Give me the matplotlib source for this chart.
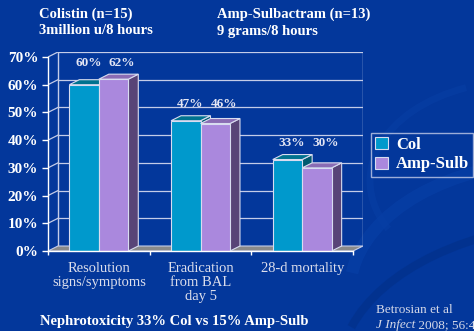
import numpy as np
import matplotlib.pyplot as plt
from matplotlib.patches import Polygon, Patch, Arc

# === DATA ===
categories = ["Resolution\nsigns/symptoms", "Eradication\nfrom BAL\nday 5", "28-d mortality"]
col_values = [60, 47, 33]
amp_values = [62, 46, 30]
series_names = ["Col", "Amp-Sulb"]
y_ticks = [0, 10, 20, 30, 40, 50, 60, 70]

# === STYLE ===
BG = "#03379b"
LINE = "#c4cce8"
TEXT = "white"
SERIF = ["Liberation Serif", "DejaVu Serif"]
COL_FACES = ("#0099cc", "#00728f", "#005a70")   # front, top, side
AMP_FACES = ("#aa88dd", "#8a6cb4", "#584477")
FLOOR = "#8a8a8a"
BAR_W = 0.29
DX, DY = 0.098, 1.8   # depth offset in data units

plt.rcParams["font.family"] = SERIF

fig = plt.figure(figsize=(4.74, 3.31), dpi=100, facecolor=BG)

# soft swooshes in the background
bg = fig.add_axes([0, 0, 1, 1], zorder=-5)
bg.set_xlim(0, 474)
bg.set_ylim(0, 331)
bg.axis("off")
for (cx, cy, w, h, t1, t2, lw, c) in [
    (560, 40, 420, 260, 95, 175, 9, "#0840a8"),
    (600, -40, 520, 300, 100, 170, 6, "#022f88"),
    (520, 150, 300, 200, 120, 200, 5, "#083ea4"),
]:
    bg.add_patch(Arc((cx, cy), w, h, theta1=t1, theta2=t2, lw=lw, color=c, alpha=0.6))

ax = fig.add_axes([48 / 474, 80 / 331, 315 / 474, 199 / 331])
ax.set_facecolor("none")
ax.set_xlim(0, 3 + DX)
ax.set_ylim(0, 70 + DY)

# back wall grid and left wall diagonals
for v in y_ticks[1:]:
    ax.plot([DX, 3 + DX], [v + DY, v + DY], color=LINE, lw=0.9, zorder=1)
    ax.plot([0, DX], [v, v + DY], color=LINE, lw=0.9, zorder=1)
ax.plot([DX, DX], [DY, 70 + DY], color=LINE, lw=1, zorder=1)
ax.plot([3 + DX, 3 + DX], [DY, 70 + DY], color=LINE, lw=1, zorder=1)

# floor
ax.add_patch(Polygon([(0, 0), (3, 0), (3 + DX, DY), (DX, DY)], closed=True,
                     facecolor=FLOOR, edgecolor=LINE, lw=0.8, zorder=2))


def bar3d(x0, v, faces):
    front, top, side = faces
    x1 = x0 + BAR_W
    ax.add_patch(Polygon([(x1, 0), (x1 + DX, DY), (x1 + DX, v + DY), (x1, v)],
                         facecolor=side, edgecolor="#d8dcf0", lw=0.8, zorder=3))
    ax.add_patch(Polygon([(x0, v), (x1, v), (x1 + DX, v + DY), (x0 + DX, v + DY)],
                         facecolor=top, edgecolor="#d8dcf0", lw=0.8, zorder=3))
    ax.add_patch(Polygon([(x0, 0), (x1, 0), (x1, v), (x0, v)],
                         facecolor=front, edgecolor="#d8dcf0", lw=0.8, zorder=3))


x = np.arange(len(categories)) + 0.5
for i in range(len(categories)):
    bar3d(x[i] - BAR_W, col_values[i], COL_FACES)
    bar3d(x[i], amp_values[i], AMP_FACES)
    label_y = max(col_values[i], amp_values[i]) + 6.0
    ax.text(x[i] - BAR_W / 2 + 0.045, label_y, f"{col_values[i]}%", ha="center", va="center",
            color="#e4e6f4", fontsize=9.5, fontweight="bold", zorder=4)
    ax.text(x[i] + BAR_W / 2 + 0.085, label_y, f"{amp_values[i]}%", ha="center", va="center",
            color="#e4e6f4", fontsize=9.5, fontweight="bold", zorder=4)

# front axes
for s in ["top", "right"]:
    ax.spines[s].set_visible(False)
ax.spines["left"].set_bounds(0, 70)
ax.spines["bottom"].set_bounds(0, 3)
for s in ["left", "bottom"]:
    ax.spines[s].set_color("white")
    ax.spines[s].set_linewidth(1)
    ax.spines[s].set_zorder(5)

ax.set_yticks(y_ticks, [f"{v}%" for v in y_ticks])
ax.tick_params(axis="y", colors="white", length=4, width=1, pad=3,
               labelsize=11, labelcolor=TEXT)
for lab in ax.get_yticklabels():
    lab.set_fontweight("bold")

ax.set_xticks([0, 1, 2, 3], ["", "", "", ""])
ax.tick_params(axis="x", which="major", colors="white", length=3, width=1)
ax.set_xticks(x, categories, minor=True)
ax.tick_params(axis="x", which="minor", length=0, pad=8, labelsize=10.5, labelcolor="#dcdeec")
for lab in ax.get_xticklabels(minor=True):
    lab.set_linespacing(1.1)

# legend
handles = [Patch(facecolor=COL_FACES[0], edgecolor="#d8dcf0", lw=0.8),
           Patch(facecolor=AMP_FACES[0], edgecolor="#d8dcf0", lw=0.8)]
leg = fig.legend(handles, series_names, loc="upper left", bbox_to_anchor=(371 / 474, 1 - 133 / 331),
                 frameon=True, fancybox=False, fontsize=12, handlelength=0.75, handleheight=0.75,
                 handletextpad=0.5, borderpad=0.25, labelspacing=0.2, borderaxespad=0)
leg.get_frame().set_facecolor("none")
leg.get_frame().set_edgecolor(LINE)
leg.get_frame().set_linewidth(1)
for t in leg.get_texts():
    t.set_color(TEXT)
    t.set_fontweight("bold")

# slide text
hdr = dict(color=TEXT, fontsize=10.5, fontweight="bold", va="center", ha="left")
fig.text(39 / 474, 1 - 14 / 331, "Colistin (n=15)", **hdr)
fig.text(39 / 474, 1 - 31 / 331, "3million u/8 hours", **hdr)
fig.text(217 / 474, 1 - 14 / 331, "Amp-Sulbactram (n=13)", **hdr)
fig.text(217 / 474, 1 - 31 / 331, "9 grams/8 hours", **hdr)
fig.text(40 / 474, 1 - 321 / 331, "Nephrotoxicity 33% Col vs 15% Amp-Sulb", **hdr)

fig.text(376 / 474, 1 - 310 / 331, "Betrosian et al", color="#d4d8e8", fontsize=9.5,
         va="center", ha="left")
j = fig.text(376 / 474, 1 - 325 / 331, "J Infect", color="#d4d8e8", fontsize=9.5,
             style="italic", va="center", ha="left")
ax.annotate(" 2008; 56:432-6", xy=(1, 0.5), xycoords=j, va="center", ha="left",
            color="#d4d8e8", fontsize=9.5, annotation_clip=False)

fig.savefig("out.png", dpi=100, facecolor=BG)
